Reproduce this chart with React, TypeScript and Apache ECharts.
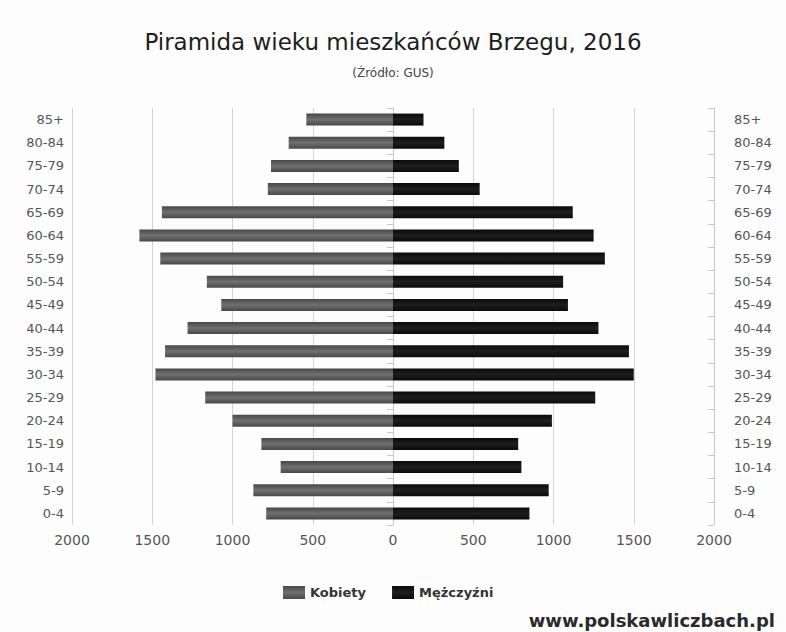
import React, { useEffect, useRef } from "react";
import * as echarts from "echarts";

const categories = ["0-4", "5-9", "10-14", "15-19", "20-24", "25-29", "30-34", "35-39", "40-44", "45-49", "50-54", "55-59", "60-64", "65-69", "70-74", "75-79", "80-84", "85+"];
const women = [790, 870, 700, 820, 1000, 1170, 1480, 1420, 1280, 1070, 1160, 1450, 1580, 1440, 780, 760, 650, 540];
const men = [850, 970, 800, 780, 990, 1260, 1500, 1470, 1280, 1090, 1060, 1320, 1250, 1120, 540, 410, 320, 190];
const xTicks = [-2000, -1500, -1000, -500, 0, 500, 1000, 1500, 2000];

const FONT = "'DejaVu Sans', sans-serif";

export default function App() {
  const ref = useRef<HTMLDivElement>(null);
  useEffect(() => {
    if (!ref.current) return;
    const chart = echarts.init(ref.current, null, { renderer: "svg" });
    const grayGrad = new echarts.graphic.LinearGradient(0, 0, 0, 1, [
      { offset: 0, color: "#484848" },
      { offset: 0.5, color: "#707070" },
      { offset: 1, color: "#484848" },
    ]);
    const blackGrad = new echarts.graphic.LinearGradient(0, 0, 0, 1, [
      { offset: 0, color: "#0a0a0a" },
      { offset: 0.5, color: "#1e1e1e" },
      { offset: 1, color: "#0a0a0a" },
    ]);
    chart.setOption({
      animation: false,
      backgroundColor: "#fdfdfd",
      textStyle: { fontFamily: FONT },
      title: {
        text: "Piramida wieku mieszkańców Brzegu, 2016",
        subtext: "(Źródło: GUS)",
        left: "center",
        top: 25,
        itemGap: 14,
        textStyle: { fontFamily: FONT, fontSize: 23, fontWeight: "normal", color: "#1e1e1e" },
        subtextStyle: { fontFamily: FONT, fontSize: 12, color: "#444" },
      },
      legend: {
        bottom: 28,
        left: 278,
        itemWidth: 22,
        itemHeight: 13,
        itemGap: 26,
        icon: "rect",
        textStyle: { fontFamily: FONT, fontSize: 13, fontWeight: "bold", color: "#333" },
        data: ["Kobiety", "Mężczyźni"],
      },
      grid: { left: 72, right: 72, top: 108, bottom: 107 },
      xAxis: {
        type: "value",
        min: -2000,
        max: 2000,
        interval: 500,
        axisLine: { show: false },
        axisTick: { show: false },
        axisLabel: {
          color: "#555",
          fontSize: 14,
          margin: 8,
          formatter: (v: number) => (xTicks.includes(v) ? String(Math.abs(v)) : ""),
        },
        splitLine: { show: true, lineStyle: { color: "#d4d4d4", width: 1 } },
      },
      yAxis: [
        {
          type: "category",
          data: categories,
          position: "left",
          axisLine: { show: true, lineStyle: { color: "#c8c8c8" } },
          axisTick: { show: true, length: 6, lineStyle: { color: "#c8c8c8" } },
          axisLabel: { color: "#555", fontSize: 13, margin: 8 },
        },
        {
          type: "category",
          data: categories,
          position: "right",
          axisLine: { show: true, lineStyle: { color: "#c8c8c8" } },
          axisTick: { show: true, length: 6, inside: true, lineStyle: { color: "#c8c8c8" } },
          axisLabel: { color: "#555", fontSize: 13, margin: 20 },
        },
      ],
      series: [
        {
          name: "Kobiety",
          type: "bar",
          yAxisIndex: 0,
          data: women.map((v) => -v),
          barWidth: 12,
          barGap: "-100%",
          itemStyle: { color: grayGrad },
        },
        {
          name: "Mężczyźni",
          type: "bar",
          yAxisIndex: 0,
          data: men,
          barWidth: 12,
          barGap: "-100%",
          itemStyle: { color: blackGrad },
        },
      ],
      graphic: [
        {
          type: "text",
          right: 11,
          bottom: 3,
          style: {
            text: "www.polskawliczbach.pl",
            fontFamily: FONT,
            fontSize: 18,
            fontWeight: "bold",
            fill: "#2a2a2a",
          },
        },
      ],
    });
    return () => chart.dispose();
  }, []);
  return <div ref={ref} style={{ position: "absolute", left: 0, top: 0, width: 786, height: 632 }} />;
}
